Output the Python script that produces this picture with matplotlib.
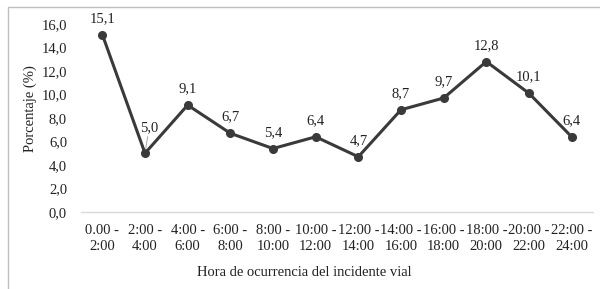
import matplotlib.pyplot as plt
from matplotlib.patches import Rectangle

franjas = ["0.00 -\n2:00", "2:00 -\n4:00", "4:00 -\n6:00", "6:00 -\n8:00",
           "8:00 -\n10:00", "10:00 -\n12:00", "12:00 -\n14:00", "14:00 -\n16:00",
           "16:00 -\n18:00", "18:00 -\n20:00", "20:00 -\n22:00", "22:00 -\n24:00"]
porcentaje = [15.1, 5.0, 9.1, 6.7, 5.4, 6.4, 4.7, 8.7, 9.7, 12.8, 10.1, 6.4]
yticks = [0, 2, 4, 6, 8, 10, 12, 14, 16]

plt.rcParams['font.family'] = ['Liberation Serif', 'DejaVu Serif']
color = '#3a3a3a'
fs = 10.5

fig = plt.figure(figsize=(6, 2.89), dpi=100)
# chart frame
fig.patches.append(Rectangle((8 / 600, -0.1), 1.2, 1.1 - 7 / 289,
                             transform=fig.transFigure, fill=False,
                             edgecolor='#bfbfbf', linewidth=1))
ax = fig.add_axes([81 / 600, 1 - 212 / 289, 512 / 600, 188 / 289])

x = list(range(len(porcentaje)))
ax.plot(x, porcentaje, color=color, linewidth=2.2, marker='o', markersize=5.5,
        markerfacecolor=color, markeredgecolor=color)

for xi, v in zip(x, porcentaje):
    txt = f"{v:.1f}".replace('.', ',')
    if xi == 1:
        # label with leader line, as in the original
        ax.annotate(txt, (xi, v), xytext=(3, 14), textcoords='offset points',
                    ha='center', va='bottom', fontsize=fs, color='#222222',
                    arrowprops=dict(arrowstyle='-', color='#a6a6a6', lw=0.7,
                                    shrinkA=0, shrinkB=3))
    else:
        ax.annotate(txt, (xi, v), xytext=(0, 7), textcoords='offset points',
                    ha='center', va='bottom', fontsize=fs, color='#222222')

ax.set_xlim(-0.5, len(porcentaje) - 0.5)
ax.set_ylim(0, 16)
ax.set_yticks(yticks)
ax.set_yticklabels([f"{t:.1f}".replace('.', ',') for t in yticks])
ax.set_xticks(x)
ax.set_xticklabels(franjas)
ax.tick_params(axis='both', length=0, labelsize=fs, colors='#222222')
ax.tick_params(axis='x', pad=9)
ax.tick_params(axis='y', pad=10)

for s in ['top', 'right', 'left']:
    ax.spines[s].set_visible(False)
ax.spines['bottom'].set_color('#d9d9d9')
ax.spines['bottom'].set_linewidth(1)

ax.set_ylabel("Porcentaje (%)", fontsize=fs, color='#222222')
ax.set_xlabel("Hora de ocurrencia del incidente vial", fontsize=fs,
              color='#222222')
ax.yaxis.set_label_coords((37 - 81) / 512, (212 - 109) / 188)
ax.xaxis.set_label_coords((304 - 81) / 512, (212 - 266) / 188)

fig.savefig("out.png", dpi=100)
